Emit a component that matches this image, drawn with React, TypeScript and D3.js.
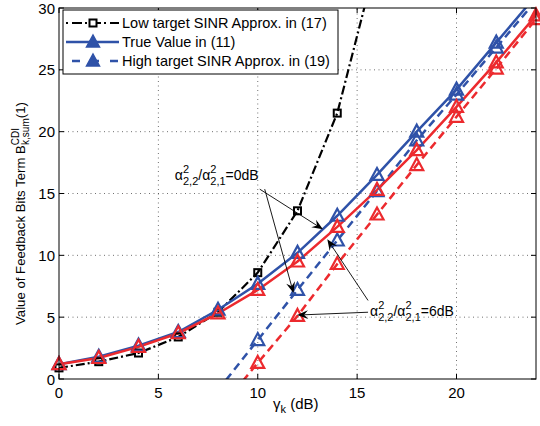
import React from "react";
import * as d3 from "d3";

const xTicks = [0, 5, 10, 15, 20];
const yTicks = [0, 5, 10, 15, 20, 25, 30];

const lowX = [0, 2, 4, 6, 8, 10, 12, 14, 16];
const lowY = [0.9, 1.4, 2.1, 3.4, 5.4, 8.6, 13.6, 21.5, 34];

const sinrX = [0, 2, 4, 6, 8, 10, 12, 14, 16, 18, 20, 22, 24];
const trueBlue = [1.2, 1.8, 2.7, 3.8, 5.6, 7.7, 10.2, 13.2, 16.5, 20.0, 23.4, 27.2, 31.0];
const trueRed = [1.2, 1.7, 2.6, 3.7, 5.3, 7.2, 9.5, 12.3, 15.3, 18.5, 22.0, 25.6, 29.4];

const highX = [8, 10, 12, 14, 16, 18, 20, 22, 24];
const highBlue = [-0.9, 3.15, 7.2, 11.2, 15.2, 19.3, 23.0, 26.8, 30.6];
const highRed = [-2.6, 1.3, 5.1, 9.3, 13.3, 17.3, 21.2, 25.1, 29.1];

const legendLabels = [
  "Low target SINR Approx. in (17)",
  "True Value in (11)",
  "High target SINR Approx. in (19)",
];

const BLUE = "#2f52a8";
const RED = "#ec2a2e";
const FONT = "'Liberation Sans', Arial, Helvetica, sans-serif";

const W = 540, H = 426;
const x = d3.scaleLinear().domain([0, 24]).range([59, 536]);
const y = d3.scaleLinear().domain([0, 30]).range([379, 8]);

const tri = "M0,-7 L6.5,5 L-6.5,5 Z";

function Arrow({ x1, y1, x2, y2 }: { x1: number; y1: number; x2: number; y2: number }) {
  const px1 = x(x1), py1 = y(y1), px2 = x(x2), py2 = y(y2);
  const ang = Math.atan2(py2 - py1, px2 - px1);
  const L = 11, Wd = 4.5, notch = 7;
  const ca = Math.cos(ang), sa = Math.sin(ang);
  const pt = (a: number, b: number) => [px2 - a * ca - b * -sa, py2 - a * sa - b * ca];
  const p1 = pt(L, Wd), p2 = pt(notch, 0), p3 = pt(L, -Wd);
  return (
    <g>
      <line x1={px1} y1={py1} x2={p2[0]} y2={p2[1]} stroke="#000" strokeWidth={0.9} />
      <path d={`M${px2},${py2} L${p1[0]},${p1[1]} L${p2[0]},${p2[1]} L${p3[0]},${p3[1]} Z`} fill="#000" />
    </g>
  );
}

function Ratio({ px, py, label }: { px: number; py: number; label: string }) {
  return (
    <text x={x(px)} y={y(py)} fontFamily={FONT} fontSize={14} fill="#000">
      α<tspan dy={-7} fontSize={11}>2</tspan>
      <tspan dx={-6.1} dy={12} fontSize={11}>2,2</tspan>
      <tspan dy={-5}>/α</tspan>
      <tspan dy={-7} fontSize={11}>2</tspan>
      <tspan dx={-6.1} dy={12} fontSize={11}>2,1</tspan>
      <tspan dy={-5}>{label}</tspan>
    </text>
  );
}

export default function App() {
  const line = d3.line<[number, number]>().x((d) => x(d[0])).y((d) => y(d[1]));
  const zip = (xs: number[], ys: number[]) => xs.map((v, i) => [v, ys[i]] as [number, number]);
  const inside = (d: [number, number]) => d[0] >= 0 && d[0] <= 24 && d[1] >= 0 && d[1] <= 30;

  const low = zip(lowX, lowY);
  const tb = zip(sinrX, trueBlue);
  const tr = zip(sinrX, trueRed);
  const hb = zip(highX, highBlue);
  const hr = zip(highX, highRed);

  const series = [
    { d: hb, color: BLUE, dash: "8,5" },
    { d: hr, color: RED, dash: "8,5" },
    { d: tb, color: BLUE, dash: undefined },
    { d: tr, color: RED, dash: undefined },
  ];

  return (
    <svg width={W} height={H} style={{ position: "absolute", left: 0, top: 0, background: "#fff" }}>
      <defs>
        <clipPath id="plot">
          <rect x={59} y={8} width={477} height={371} />
        </clipPath>
      </defs>
      <rect x={0} y={0} width={W} height={H} fill="#fff" />
      {xTicks.filter((t) => t > 0).map((t) => (
        <line key={"gx" + t} x1={x(t)} x2={x(t)} y1={y(0)} y2={y(30)} stroke="#333" strokeWidth={0.7} strokeDasharray="1,3.5" />
      ))}
      {yTicks.filter((t) => t > 0 && t < 30).map((t) => (
        <line key={"gy" + t} x1={x(0)} x2={x(24)} y1={y(t)} y2={y(t)} stroke="#333" strokeWidth={0.7} strokeDasharray="1,3.5" />
      ))}
      {xTicks.map((t) => (
        <g key={"tx" + t}>
          <line x1={x(t)} x2={x(t)} y1={y(0)} y2={y(0) - 5} stroke="#000" />
          <line x1={x(t)} x2={x(t)} y1={y(30)} y2={y(30) + 5} stroke="#000" />
          <text x={x(t)} y={398} textAnchor="middle" fontFamily={FONT} fontSize={15}>{t}</text>
        </g>
      ))}
      {yTicks.map((t) => (
        <g key={"ty" + t}>
          <line x1={x(0)} x2={x(0) + 5} y1={y(t)} y2={y(t)} stroke="#000" />
          <line x1={x(24)} x2={x(24) - 5} y1={y(t)} y2={y(t)} stroke="#000" />
          <text x={55} y={y(t) + 5.5} textAnchor="end" fontFamily={FONT} fontSize={15}>{t}</text>
        </g>
      ))}
      <g clipPath="url(#plot)">
        <path d={line(low) || ""} fill="none" stroke="#000" strokeWidth={2.2} strokeDasharray="9,3,2,3" />
        {series.map((s, i) => (
          <path key={i} d={line(s.d) || ""} fill="none" stroke={s.color} strokeWidth={2.5} strokeDasharray={s.dash} />
        ))}
      </g>
      {low.filter(inside).map((d, i) => (
        <rect key={"ls" + i} x={x(d[0]) - 3.5} y={y(d[1]) - 3.5} width={7} height={7} fill="none" stroke="#000" strokeWidth={2} />
      ))}
      {series.map((s, i) =>
        s.d.filter(inside).map((d, j) => (
          <path key={"m" + i + "-" + j} d={tri} transform={`translate(${x(d[0])},${y(d[1])})`} fill="none" stroke={s.color} strokeWidth={2.2} />
        ))
      )}
      <rect x={59} y={8} width={477} height={371} fill="none" stroke="#000" strokeWidth={1} />
      <g>
        <rect x={63} y={10} width={275} height={64} fill="#fff" stroke="#000" strokeWidth={1} />
        <line x1={66} x2={119} y1={23} y2={23} stroke="#000" strokeWidth={2.2} strokeDasharray="2,4,10,3" />
        <rect x={89.5} y={19.5} width={7} height={7} fill="#fff" stroke="#000" strokeWidth={2} />
        <line x1={66} x2={119} y1={42} y2={42} stroke={BLUE} strokeWidth={2.5} />
        <path d={tri} transform="translate(93,42)" fill={BLUE} stroke={BLUE} strokeWidth={1.5} />
        <line x1={72} x2={119} y1={61} y2={61} stroke={BLUE} strokeWidth={2.5} strokeDasharray="8,11" />
        <path d={tri} transform="translate(93,61)" fill={BLUE} stroke={BLUE} strokeWidth={1.5} />
        {legendLabels.map((l, i) => (
          <text key={l} x={122} y={28 + i * 19} fontFamily={FONT} fontSize={14.5}>{l}</text>
        ))}
      </g>
      <Ratio px={5.83} py={16.1} label="=0dB" />
      <Arrow x1={10.1} y1={15.35} x2={13.28} y2={12.1} />
      <Arrow x1={10.35} y1={15.35} x2={11.8} y2={6.95} />
      <Ratio px={15.65} py={5.1} label="=6dB" />
      <Arrow x1={15.55} y1={5.4} x2={11.98} y2={5.17} />
      <Arrow x1={15.55} y1={6.35} x2={13.5} y2={11.3} />
      <text x={273} y={409} fontFamily={FONT} fontSize={15}>
        γ<tspan dy={4} fontSize={11}>k</tspan><tspan dy={-4}> (dB)</tspan>
      </text>
      <text transform="translate(25,325) rotate(-90)" fontFamily={FONT} fontSize={13.2}>
        Value of Feedback Bits Term B<tspan dy={-6} fontSize={10}>CDI</tspan>
        <tspan dx={-17} dy={10} fontSize={10}>k,sum</tspan>
        <tspan dy={-4}>(1)</tspan>
      </text>
    </svg>
  );
}
